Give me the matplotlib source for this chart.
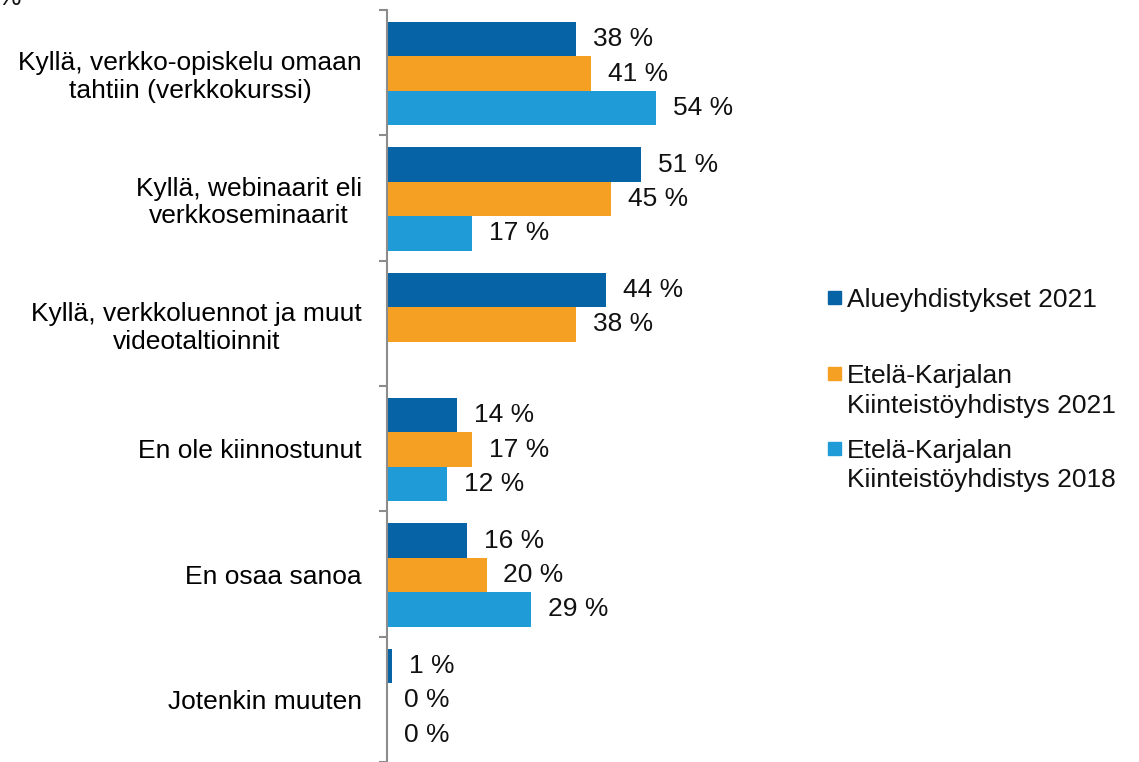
import numpy as np
import matplotlib
matplotlib.use("Agg")
import matplotlib.pyplot as plt
from matplotlib.patches import Rectangle

categories = [
    "Kyllä, verkko-opiskelu omaan\ntahtiin (verkkokurssi)",
    "Kyllä, webinaarit eli\nverkkoseminaarit",
    "Kyllä, verkkoluennot ja muut\nvideotaltioinnit",
    "En ole kiinnostunut",
    "En osaa sanoa",
    "Jotenkin muuten",
]
series_names = [
    "Alueyhdistykset 2021",
    "Etelä-Karjalan\nKiinteistöyhdistys 2021",
    "Etelä-Karjalan\nKiinteistöyhdistys 2018",
]
alue_2021 = [38, 51, 44, 14, 16, 1]
ek_2021 = [41, 45, 38, 17, 20, 0]
ek_2018 = [54, 17, np.nan, 12, 29, 0]

colors = ["#0563a6", "#f6a023", "#1f9bd7"]
FS = 19

plt.rcParams.update({
    "font.family": ["Liberation Sans", "DejaVu Sans"],
    "font.size": FS,
})

W, H = 1139, 762
fig = plt.figure(figsize=(W / 100, H / 100), dpi=100)
ax = fig.add_axes([387 / W, 0.0, (800 - 387) / W, 1 - 10 / H])

y = np.arange(len(categories))
bh = 0.274
offsets = [-bh + 0.008, 0.008, bh + 0.008]
for vals, off, col in zip([alue_2021, ek_2021, ek_2018], offsets, colors):
    vals = np.array(vals, dtype=float)
    ax.barh(y + off, vals, height=bh, color=col, edgecolor="none")
    for yi, v in zip(y + off, vals):
        if np.isnan(v):
            continue
        ax.annotate(f"{v:.0f} %", xy=(v, yi), xytext=(12.2, 0),
                    textcoords="offset points", va="center", ha="left",
                    fontsize=FS, color="#111111")

ax.set_xlim(0, 83)
ax.set_ylim(len(categories) - 0.5, -0.5)
ax.set_xticks([])
ax.set_yticks(y)
ax.set_yticklabels(categories, multialignment="center")
for t in ax.get_yticklabels():
    t.set_linespacing(1.2)
ax.tick_params(axis="y", which="major", length=0, pad=18)
ax.set_yticks(np.arange(-0.5, len(categories)), minor=True)
ax.tick_params(axis="y", which="minor", length=6, width=1.5, color="#8c8c8c")
for s in ["top", "right", "bottom"]:
    ax.spines[s].set_visible(False)
ax.spines["left"].set_color("#8c8c8c")
ax.spines["left"].set_linewidth(1.5)

# legend drawn by hand to keep the reference spacing
sq = 13
for name, col, yc in zip(series_names, colors, [297, 373, 448]):
    fig.patches.append(Rectangle((828 / W, 1 - (yc + sq / 2) / H), sq / W, sq / H,
                                 transform=fig.transFigure, color=col))
    for i, line in enumerate(name.split("\n")):
        fig.text(847 / W, 1 - (yc + 30 * i + 9.5) / H, line, va="baseline",
                 ha="left", fontsize=FS, color="#111111")

fig.text(-2 / W, 1 - 5 / H, "%", va="baseline", ha="left", fontsize=FS, color="#111111")

fig.savefig("out.png", dpi=100)
